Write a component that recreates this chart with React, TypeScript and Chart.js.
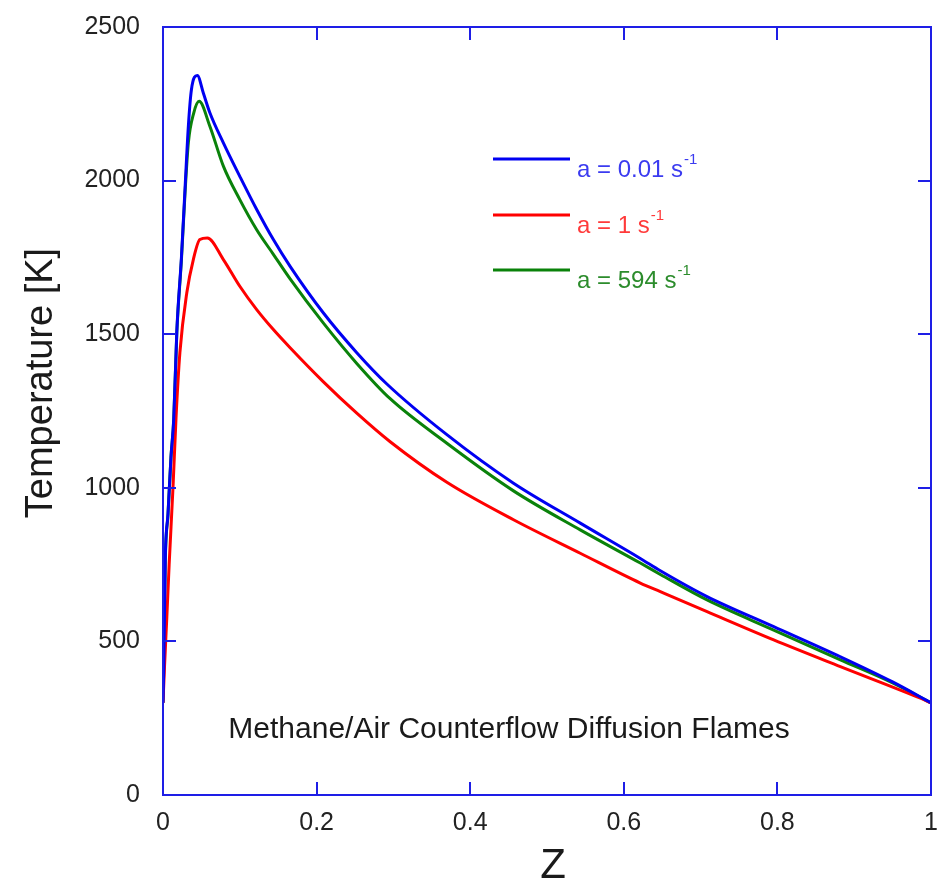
import React, { useEffect, useRef } from "react";
import { Chart, registerables } from "chart.js";
Chart.register(...registerables);

const xTicks = [0, 0.2, 0.4, 0.6, 0.8, 1];
const yTicks = [0, 500, 1000, 1500, 2000, 2500];

const blueZ = [0, 0.001, 0.003, 0.0065, 0.0104, 0.014, 0.018, 0.024, 0.0287, 0.033, 0.037, 0.0447, 0.0525, 0.061, 0.0786, 0.1, 0.122, 0.1437, 0.1655, 0.2089, 0.2523, 0.2915, 0.3696, 0.4564, 0.5433, 0.6215, 0.6476, 0.7084, 0.7952, 0.882, 0.95, 1.0];
const blueT = [300, 420, 770, 915, 1100, 1225, 1510, 1750, 1975, 2177, 2296, 2342, 2285, 2221, 2123, 2014, 1906, 1808, 1721, 1569, 1440, 1338, 1173, 1015, 885, 770, 730, 646, 548, 450, 368, 300];

const redZ = [0, 0.002, 0.005, 0.008, 0.013, 0.017, 0.022, 0.031, 0.0395, 0.048, 0.0577, 0.0786, 0.1, 0.122, 0.1437, 0.1655, 0.2089, 0.2523, 0.2958, 0.3696, 0.4564, 0.5433, 0.6215, 0.6476, 0.7084, 0.7952, 0.882, 0.9863, 1.0];
const redT = [300, 420, 580, 750, 1000, 1230, 1440, 1635, 1743, 1808, 1813, 1743, 1656, 1580, 1515, 1456, 1345, 1243, 1150, 1018, 896, 787, 690, 662, 597, 505, 418, 315, 300];

const greenZ = [0, 0.001, 0.003, 0.0065, 0.0104, 0.014, 0.018, 0.024, 0.0287, 0.033, 0.04, 0.047, 0.061, 0.0786, 0.1, 0.122, 0.1437, 0.1655, 0.2089, 0.2523, 0.2958, 0.3696, 0.4564, 0.5433, 0.6215, 0.6476, 0.7084, 0.7952, 0.882, 0.95, 1.0];
const greenT = [300, 417, 765, 912, 1100, 1221, 1505, 1743, 1960, 2123, 2220, 2258, 2177, 2047, 1938, 1840, 1760, 1680, 1536, 1405, 1290, 1145, 990, 863, 755, 718, 635, 537, 440, 365, 300];

const seriesLabels = ["a = 0.01 s", "a = 1 s", "a = 594 s"];
const seriesSup = "-1";
const lineColors = ["#0000f2", "#ff0000", "#0a820a"];
const textColors = ["#3b3bf0", "#ff3a3a", "#2c8c2c"];
const annotation = "Methane/Air Counterflow Diffusion Flames";
const xTitle = "Z";
const yTitle = "Temperature [K]";

const FONT = "'Liberation Sans', Arial, Helvetica, sans-serif";
const FRAME = "#1e1ee6";

const toPts = (zs: number[], ts: number[]) => zs.map((z, i) => ({ x: z, y: ts[i] }));

const decorPlugin = {
  id: "decor",
  afterDraw(chart: any) {
    const { ctx, chartArea: a, scales } = chart;
    const xs = scales.x;
    const ys = scales.y;
    ctx.save();
    ctx.strokeStyle = FRAME;
    ctx.lineWidth = 2;
    ctx.strokeRect(a.left, a.top, a.right - a.left, a.bottom - a.top);
    const TL = 13;
    ctx.beginPath();
    ys.ticks.forEach((t: any) => {
      const y = Math.round(ys.getPixelForValue(t.value));
      ctx.moveTo(a.left, y);
      ctx.lineTo(a.left + TL, y);
      ctx.moveTo(a.right, y);
      ctx.lineTo(a.right - TL, y);
    });
    xs.ticks.forEach((t: any) => {
      const x = Math.round(xs.getPixelForValue(t.value));
      ctx.moveTo(x, a.bottom);
      ctx.lineTo(x, a.bottom - TL);
      ctx.moveTo(x, a.top);
      ctx.lineTo(x, a.top + TL);
    });
    ctx.stroke();

    const lineY = [159, 215, 270];
    const textY = [177, 233, 288];
    for (let i = 0; i < 3; i++) {
      ctx.strokeStyle = lineColors[i];
      ctx.lineWidth = 3;
      ctx.beginPath();
      ctx.moveTo(493, lineY[i]);
      ctx.lineTo(570, lineY[i]);
      ctx.stroke();
      ctx.fillStyle = textColors[i];
      ctx.font = `24px ${FONT}`;
      ctx.textAlign = "left";
      ctx.textBaseline = "alphabetic";
      ctx.fillText(seriesLabels[i], 577, textY[i]);
      const w = ctx.measureText(seriesLabels[i]).width;
      ctx.font = `15px ${FONT}`;
      ctx.fillText(seriesSup, 577 + w + 1, textY[i] - 13);
    }

    ctx.fillStyle = "#1a1a1a";
    ctx.font = `30px ${FONT}`;
    ctx.textAlign = "center";
    ctx.fillText(annotation, 509, 738);

    ctx.font = `42px ${FONT}`;
    ctx.textBaseline = "middle";
    ctx.fillText(xTitle, 553, 866);
    ctx.save();
    ctx.translate(42, 383);
    ctx.rotate(-Math.PI / 2);
    ctx.font = `38px ${FONT}`;
    ctx.fillText(yTitle, 0, 0);
    ctx.restore();
    ctx.restore();
  },
};

export default function App() {
  const ref = useRef<HTMLCanvasElement>(null);
  useEffect(() => {
    document.body.style.margin = "0";
    const mk = (label: string, zs: number[], ts: number[], color: string) => ({
      label,
      data: toPts(zs, ts),
      borderColor: color,
      backgroundColor: color,
      borderWidth: 3,
      pointRadius: 0,
      cubicInterpolationMode: "monotone",
      fill: false,
    });
    const chart = new Chart(ref.current!, {
      type: "line",
      data: {
        datasets: [
          mk(seriesLabels[0], blueZ, blueT, lineColors[0]),
          mk(seriesLabels[1], redZ, redT, lineColors[1]),
          mk(seriesLabels[2], greenZ, greenT, lineColors[2]),
        ],
      },
      options: {
        responsive: false,
        animation: false,
        devicePixelRatio: 1,
        layout: { padding: { top: 27, right: 6, left: 0, bottom: 0 } },
        plugins: { legend: { display: false }, tooltip: { enabled: false } },
        scales: {
          x: {
            type: "linear",
            min: 0,
            max: 1,
            grid: { display: false, drawTicks: false },
            border: { display: false },
            afterBuildTicks: (s: any) => {
              s.ticks = xTicks.map((v) => ({ value: v }));
            },
            afterFit: (s: any) => {
              s.height = 93;
              s.paddingLeft = 0;
              s.paddingRight = 0;
            },
            ticks: {
              padding: 13,
              color: "#222",
              font: { family: FONT, size: 25 },
              maxRotation: 0,
              callback: (v: any) => String(v),
            },
          },
          y: {
            type: "linear",
            min: 0,
            max: 2500,
            grid: { display: false, drawTicks: false },
            border: { display: false },
            afterBuildTicks: (s: any) => {
              s.ticks = yTicks.map((v) => ({ value: v }));
            },
            afterFit: (s: any) => {
              s.width = 163;
              s.paddingTop = 0;
              s.paddingBottom = 0;
            },
            ticks: {
              padding: 23,
              color: "#222",
              font: { family: FONT, size: 25 },
              callback: (v: any) => String(v),
            },
          },
        },
      },
      plugins: [decorPlugin],
    } as any);
    return () => chart.destroy();
  }, []);
  return <canvas ref={ref} width={937} height={888} style={{ display: "block" }} />;
}
